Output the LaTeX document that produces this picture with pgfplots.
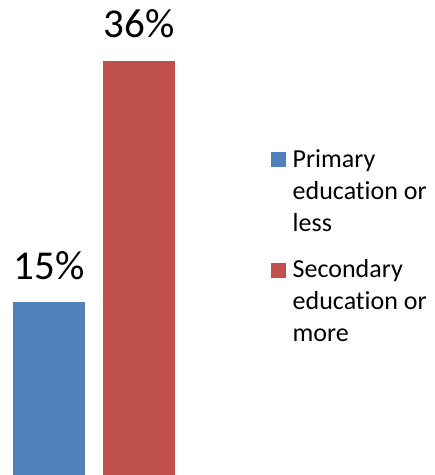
\documentclass[border=0pt]{standalone}
\usepackage{pgfplots}
\pgfplotsset{compat=1.18}
\usepackage{fontspec}
\setmainfont[Ligatures=NoCommon]{Carlito}
\definecolor{bblue}{HTML}{4F81BD}
\definecolor{bred}{HTML}{C0504D}
\pgfplotsset{sqlegend/.style={legend image code/.code={\fill[##1] (0bp,0bp) rectangle (15bp,15bp);}}}
\begin{document}
\begin{tikzpicture}
\begin{axis}[
  scale only axis, width=433bp, height=475bp,
  hide axis, clip=false,
  xmin=-0.5467, xmax=4.2644, ymin=0, ymax=41.27,
  ybar, bar width=71.7bp, bar shift=0pt,
  /pgf/number format/assume math mode=true,
  nodes near coords={\pgfmathprintnumber{\pgfplotspointmeta}\%},
  every node near coord/.append style={font=\fontsize{41bp}{49bp}\selectfont, anchor=base, inner sep=0pt, yshift=23bp, text=black},
  legend style={at={(0.6259,0.6893)}, anchor=north west, draw=none, fill=none, inner sep=0pt, outer sep=0pt,
    font=\fontsize{26bp}{32bp}\selectfont, row sep=87bp, column sep=4.7bp,
    cells={anchor=base west, inner sep=0pt}},
  sqlegend,
]
\addplot[fill=bblue, draw=none, sqlegend] coordinates {(0,15)};
\addlegendentry{\parbox[t]{140bp}{Primary\\education or\\less}}
\addplot[fill=bred, draw=none, sqlegend] coordinates {(1,36)};
\addlegendentry{\parbox[t]{140bp}{Secondary\\education or\\more}}
\path (rel axis cs:0,0) rectangle (rel axis cs:1,1);
\end{axis}
\end{tikzpicture}
\end{document}
